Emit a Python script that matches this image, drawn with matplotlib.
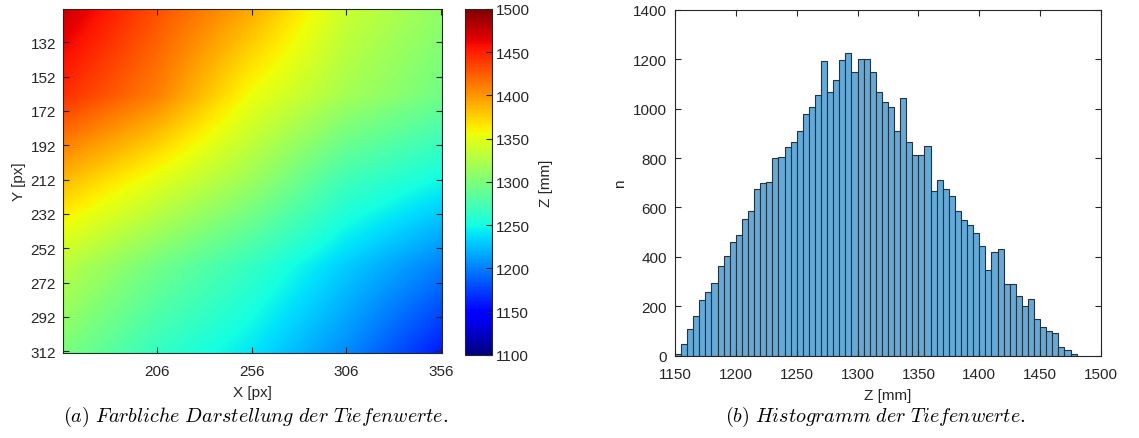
import numpy as np
import matplotlib
matplotlib.use("Agg")
import matplotlib.pyplot as plt

plt.rcParams['font.family'] = ['Liberation Sans', 'DejaVu Sans']
plt.rcParams['mathtext.fontset'] = 'cm'

# depth map, values at a 5x5 grid of pixel positions
x_grid = [156, 206, 256, 306, 356]
y_grid = [113, 163, 213, 263, 313]
z_grid = [
    [1475, 1430, 1392, 1338, 1310],
    [1445, 1410, 1355, 1320, 1295],
    [1385, 1350, 1315, 1270, 1248],
    [1330, 1295, 1265, 1230, 1200],
    [1300, 1265, 1240, 1205, 1160],
]

# histogram of the depth values (5 mm bins starting at 1150)
bin_start = 1150
bin_width = 5
counts = [7, 46, 110, 159, 224, 256, 293, 361, 405, 459,
          487, 555, 584, 673, 698, 704, 799, 806, 843, 864,
          908, 978, 1007, 1053, 1194, 1066, 1116, 1196, 1226, 1150,
          1201, 1201, 1150, 1069, 1026, 1006, 908, 1042, 866, 811,
          811, 850, 665, 709, 673, 647, 586, 550, 528, 498,
          444, 348, 418, 430, 290, 290, 240, 200, 229, 148,
          117, 101, 92, 35, 22, 8]

edges = bin_start + bin_width * np.arange(len(counts) + 1)

axcol = '#262626'
fs = 11
fig = plt.figure(figsize=(11.39, 4.39), dpi=100)

#____ left: depth map ____
ax1 = fig.add_axes([0.0553, 0.1936, 0.3328, 0.7836])
cmap = plt.get_cmap('jet')
dx = x_grid[1] - x_grid[0]
dy = y_grid[1] - y_grid[0]
im = ax1.imshow(np.array(z_grid), cmap=cmap, vmin=1100, vmax=1500,
                interpolation='bilinear', interpolation_stage='data',
                extent=[x_grid[0] - dx / 2, x_grid[-1] + dx / 2,
                        y_grid[-1] + dy / 2, y_grid[0] - dy / 2],
                aspect='auto')
ax1.set_xlim(156.4, 356.5)
ax1.set_ylim(313, 112.6)
ax1.set_xticks([206, 256, 306, 356])
ax1.set_yticks([132, 152, 172, 192, 212, 232, 252, 272, 292, 312])
ax1.tick_params(direction='in', length=4, width=0.8, top=True, right=True,
                labelsize=fs, colors=axcol)
ax1.tick_params(axis='x', pad=8)
ax1.tick_params(axis='y', pad=5)
for s in ax1.spines.values():
    s.set_color(axcol)
    s.set_linewidth(0.8)
ax1.set_xlabel('X [px]', fontsize=fs, color=axcol, labelpad=5)
ax1.set_ylabel('Y [px]', fontsize=fs, color=axcol, labelpad=3)

cax = fig.add_axes([0.4083, 0.1891, 0.0237, 0.7882])
cb = fig.colorbar(im, cax=cax)
cb.set_ticks([1100, 1150, 1200, 1250, 1300, 1350, 1400, 1450, 1500])
cax.tick_params(direction='in', length=4, width=0.8, labelsize=fs,
                colors=axcol, pad=3)
cb.outline.set_edgecolor(axcol)
cb.outline.set_linewidth(0.8)
cb.set_label('Z [mm]', fontsize=fs, color=axcol, rotation=90, labelpad=6)

#____ right: histogram ____
ax2 = fig.add_axes([0.5926, 0.1875, 0.374, 0.788])
ax2.hist(edges[:-1], bins=edges, weights=counts, color='#64a9d7',
         edgecolor='#26323c', linewidth=0.8)
ax2.set_xlim(1150, 1500)
ax2.set_ylim(0, 1400)
ax2.set_xticks(np.arange(1150, 1501, 50))
ax2.set_yticks(np.arange(0, 1401, 200))
ax2.tick_params(direction='in', length=4, width=0.8, top=True, right=True,
                labelsize=fs, colors=axcol)
ax2.tick_params(axis='x', pad=8)
ax2.tick_params(axis='y', pad=6)
for s in ax2.spines.values():
    s.set_color(axcol)
    s.set_linewidth(0.8)
ax2.set_xlabel('Z [mm]', fontsize=fs, color=axcol, labelpad=5)
ax2.set_ylabel('n', fontsize=fs, color=axcol, labelpad=4)

# captions
fig.text(0.224, 0.05, r'$\mathit{(a)\ Farbliche\ Darstellung\ der\ Tiefenwerte.}$',
         ha='center', va='center', fontsize=14.5)
fig.text(0.768, 0.05, r'$\mathit{(b)\ Histogramm\ der\ Tiefenwerte.}$',
         ha='center', va='center', fontsize=14.5)

fig.savefig('out.png', dpi=100)
